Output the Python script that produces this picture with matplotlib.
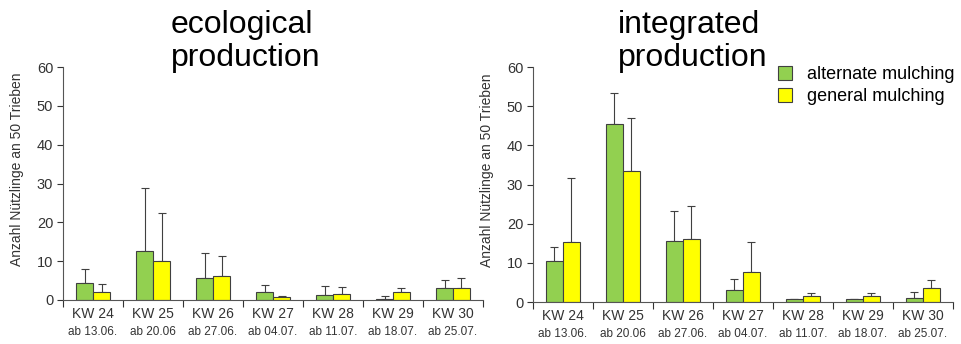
import numpy as np
import matplotlib
matplotlib.use("Agg")
import matplotlib.pyplot as plt
from matplotlib.transforms import blended_transform_factory

plt.rcParams['font.family'] = ['Liberation Sans', 'DejaVu Sans']

weeks = ["KW 24", "KW 25", "KW 26", "KW 27", "KW 28", "KW 29", "KW 30"]
dates = ["ab 13.06.", "ab 20.06", "ab 27.06.", "ab 04.07.", "ab 11.07.", "ab 18.07.", "ab 25.07."]

# ecological production
eco_alt = [4.5, 12.7, 5.6, 2.1, 1.3, 0.3, 3.0]
eco_alt_err = [3.6, 16.2, 6.6, 1.8, 2.4, 0.6, 2.1]
eco_gen = [2.0, 10.0, 6.3, 0.8, 1.6, 2.0, 3.0]
eco_gen_err = [2.0, 12.3, 5.0, 0.3, 1.7, 1.0, 2.7]

# integrated production
ip_alt = [10.6, 45.5, 15.5, 3.1, 0.9, 0.9, 1.0]
ip_alt_err = [3.4, 7.8, 7.7, 2.8, 0.0, 0.0, 1.6]
ip_gen = [15.4, 33.5, 16.0, 7.6, 1.5, 1.5, 3.6]
ip_gen_err = [16.4, 13.5, 8.5, 7.7, 0.7, 0.7, 2.0]

green = "#92D050"
yellow = "#FFFF00"
grey = "#404040"


def draw_panel(ax, alt, alt_err, gen, gen_err, title, title_x):
    x = np.arange(len(weeks))
    w = 0.283
    ax.bar(x - w / 2, alt, w, color=green, edgecolor=grey, linewidth=0.8,
           label="alternate mulching", zorder=2)
    ax.bar(x + w / 2, gen, w, color=yellow, edgecolor=grey, linewidth=0.8,
           label="general mulching", zorder=2)
    ax.errorbar(x - w / 2, alt, yerr=[np.zeros(len(alt)), alt_err], fmt="none",
                ecolor=grey, elinewidth=0.8, capsize=3, capthick=0.8, zorder=1)
    ax.errorbar(x + w / 2, gen, yerr=[np.zeros(len(gen)), gen_err], fmt="none",
                ecolor=grey, elinewidth=0.8, capsize=3, capthick=0.8, zorder=1)

    ax.set_xlim(-0.5, len(weeks) - 0.5)
    ax.set_ylim(0, 60)
    ax.set_yticks(range(0, 61, 10))
    ax.tick_params(axis="y", labelsize=10.5, colors="#333333", length=4,
                   width=0.8, pad=3)
    ax.set_xticks(np.arange(len(weeks) + 1) - 0.5)
    ax.set_xticklabels([])
    ax.tick_params(axis="x", length=5, width=0.8, colors="#333333")
    for s in ["top", "right"]:
        ax.spines[s].set_visible(False)
    for s in ["left", "bottom"]:
        ax.spines[s].set_color("#555555")
        ax.spines[s].set_linewidth(0.8)

    tr = blended_transform_factory(ax.transData, ax.transAxes)
    for i in range(len(weeks)):
        ax.text(i, -0.03, weeks[i], transform=tr, ha="center", va="top",
                fontsize=10, color="#333333")
        ax.text(i, -0.11, dates[i], transform=tr, ha="center", va="top",
                fontsize=8.5, color="#333333")

    ax.set_ylabel("Anzahl Nützlinge an 50 Trieben", fontsize=10,
                  color="#333333")
    ax.yaxis.set_label_coords(-0.093, 0.56)
    ax.figure.text(title_x, 0.972, title, ha="left", va="top", fontsize=23,
                   linespacing=1.13)


fig = plt.figure(figsize=(9.61, 3.44), dpi=100)
ax1 = fig.add_axes([0.0656, 0.128, 0.437, 0.677])
ax2 = fig.add_axes([0.5546, 0.122, 0.437, 0.683])

draw_panel(ax1, eco_alt, eco_alt_err, eco_gen, eco_gen_err,
           "ecological\nproduction", 171 / 961)
draw_panel(ax2, ip_alt, ip_alt_err, ip_gen, ip_gen_err,
           "integrated\nproduction", 618 / 961)

fig.legend(*ax2.get_legend_handles_labels(), loc="upper left",
           bbox_to_anchor=(778 / 961, 1 - 66 / 344), frameon=False,
           fontsize=13, handlelength=0.8, handleheight=0.8, handletextpad=0.8,
           labelspacing=0.25, borderpad=0, borderaxespad=0)

fig.savefig("out.png", dpi=100)
